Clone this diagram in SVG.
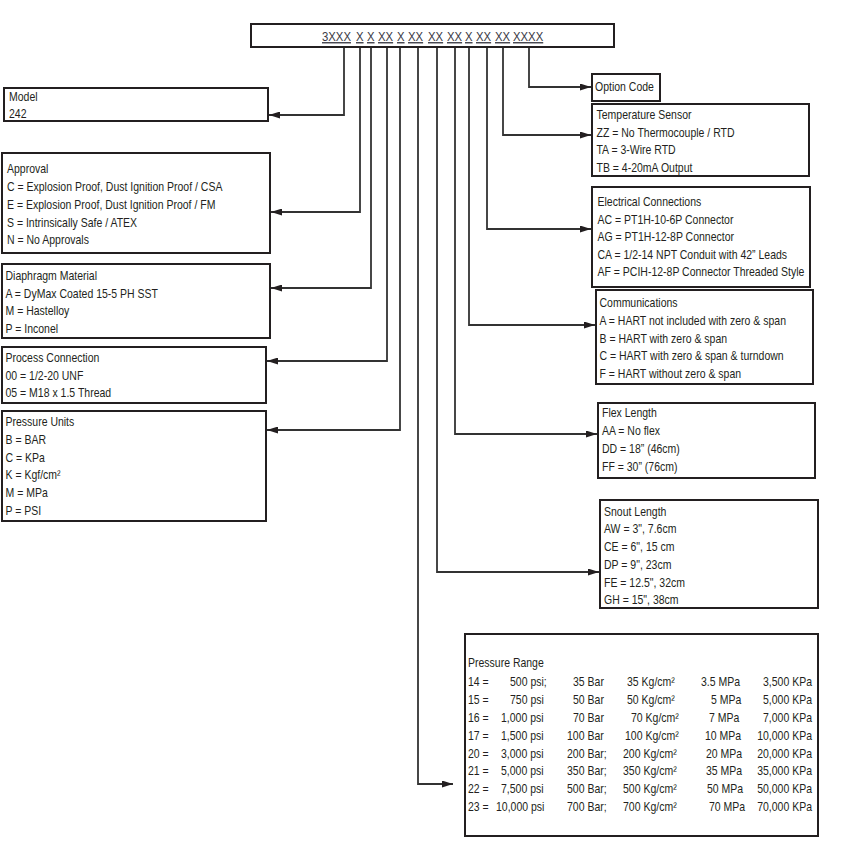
<svg xmlns="http://www.w3.org/2000/svg" width="846" height="854" viewBox="0 0 846 854">
<style>
.t{font-family:"Liberation Sans",Arial,sans-serif;font-size:12.5px;fill:#231f20}
.code{font-family:"Liberation Sans",Arial,sans-serif;font-size:13.5px;fill:#3a3a44;text-decoration:underline}
.box{fill:#fff;stroke:#231f20;stroke-width:2}
.ln{fill:none;stroke:#333;stroke-width:1.8}
</style>
<defs>
<marker id="ah" markerUnits="userSpaceOnUse" markerWidth="11" markerHeight="7" refX="11" refY="3.5" orient="auto">
<path d="M0,0 L11,3.5 L0,7 z" fill="#231f20"/>
</marker>
</defs>
<rect width="846" height="854" fill="#fff"/>

<g id="connectors">
<path class="ln" marker-end="url(#ah)" d="M344,47 V115 H269"/>
<path class="ln" marker-end="url(#ah)" d="M360,47 V212 H271"/>
<path class="ln" marker-end="url(#ah)" d="M371,47 V288 H271"/>
<path class="ln" marker-end="url(#ah)" d="M387,47 V361 H267"/>
<path class="ln" marker-end="url(#ah)" d="M400,47 V430 H267"/>
<path class="ln" marker-end="url(#ah)" d="M418,47 V784 H453"/>
<path class="ln" marker-end="url(#ah)" d="M437,47 V572 H599"/>
<path class="ln" marker-end="url(#ah)" d="M455,47 V434 H597"/>
<path class="ln" marker-end="url(#ah)" d="M469,47 V325 H595"/>
<path class="ln" marker-end="url(#ah)" d="M487,47 V229 H591"/>
<path class="ln" marker-end="url(#ah)" d="M503,47 V135 H591"/>
<path class="ln" marker-end="url(#ah)" d="M529,47 V87 H591"/>
</g>

<g id="code">
<rect class="box" x="251" y="24" width="363" height="23"/>
<g transform="scale(0.84 1)">
<text class="code" x="383.33" y="41">3XXX</text>
<text class="code" x="423.81" y="41">X</text>
<text class="code" x="436.9" y="41">X</text>
<text class="code" x="450" y="41">XX</text>
<text class="code" x="472.62" y="41">X</text>
<text class="code" x="485.71" y="41">XX</text>
<text class="code" x="509.52" y="41">XX</text>
<text class="code" x="532.14" y="41">XX</text>
<text class="code" x="553.57" y="41">X</text>
<text class="code" x="566.67" y="41">XX</text>
<text class="code" x="589.29" y="41">XX</text>
<text class="code" x="610.71" y="41">XXXX</text>
</g>
</g>

<g id="model">
<rect class="box" x="4" y="88" width="264" height="33"/>
<g transform="scale(0.84 1)">
<text class="t" x="10.71" y="101">Model</text>
<text class="t" x="10.71" y="118.5">242</text>
</g>
</g>

<g id="approval">
<rect class="box" x="2" y="153" width="268" height="100"/>
<g transform="scale(0.84 1)">
<text class="t" x="8.33" y="173.5">Approval</text>
<text class="t" x="8.33" y="191.2">C = Explosion Proof, Dust Ignition Proof / CSA</text>
<text class="t" x="8.33" y="208.9">E = Explosion Proof, Dust Ignition Proof / FM</text>
<text class="t" x="8.33" y="226.6">S = Intrinsically Safe / ATEX</text>
<text class="t" x="8.33" y="244.3">N = No Approvals</text>
</g>
</g>

<g id="diaphragm">
<rect class="box" x="2" y="264" width="268" height="74"/>
<g transform="scale(0.84 1)">
<text class="t" x="6.55" y="280.5">Diaphragm Material</text>
<text class="t" x="6.55" y="298">A =  DyMax Coated 15-5 PH SST</text>
<text class="t" x="6.55" y="315.5">M = Hastelloy</text>
<text class="t" x="6.55" y="333">P = Inconel</text>
</g>
</g>

<g id="process">
<rect class="box" x="2" y="347" width="264" height="56"/>
<g transform="scale(0.84 1)">
<text class="t" x="6.55" y="362.5">Process Connection</text>
<text class="t" x="6.55" y="380">00 = 1/2-20 UNF</text>
<text class="t" x="6.55" y="397.5">05 = M18 x 1.5 Thread</text>
</g>
</g>

<g id="units">
<rect class="box" x="2" y="411" width="264" height="110"/>
<g transform="scale(0.84 1)">
<text class="t" x="6.55" y="426.5">Pressure Units</text>
<text class="t" x="6.55" y="444.5">B =  BAR</text>
<text class="t" x="6.55" y="462">C = KPa</text>
<text class="t" x="6.55" y="479.5">K = Kgf/cm²</text>
<text class="t" x="6.55" y="497.5">M = MPa</text>
<text class="t" x="6.55" y="515">P = PSI</text>
</g>
</g>

<g id="option">
<rect class="box" x="592" y="74" width="68" height="27"/>
<g transform="scale(0.84 1)">
<text class="t" x="708.33" y="91.5">Option Code</text>
</g>
</g>

<g id="temperature">
<rect class="box" x="592" y="104" width="217" height="72"/>
<g transform="scale(0.84 1)">
<text class="t" x="710.12" y="119.5">Temperature Sensor</text>
<text class="t" x="710.12" y="137">ZZ = No Thermocouple / RTD</text>
<text class="t" x="710.12" y="154.5">TA = 3-Wire RTD</text>
<text class="t" x="710.12" y="172">TB = 4-20mA Output</text>
</g>
</g>

<g id="electrical">
<rect class="box" x="592" y="187" width="218" height="100"/>
<g transform="scale(0.84 1)">
<text class="t" x="711.31" y="206.5">Electrical Connections</text>
<text class="t" x="711.31" y="224">AC = PT1H-10-6P Connector</text>
<text class="t" x="711.31" y="241.5">AG = PT1H-12-8P Connector</text>
<text class="t" x="711.31" y="259">CA = 1/2-14 NPT Conduit with 42” Leads</text>
<text class="t" x="711.31" y="276.5">AF = PCIH-12-8P Connector Threaded Style</text>
</g>
</g>

<g id="communications">
<rect class="box" x="596" y="290" width="217" height="94"/>
<g transform="scale(0.84 1)">
<text class="t" x="713.69" y="307.5">Communications</text>
<text class="t" x="713.69" y="325.5">A = HART not included with zero &amp; span</text>
<text class="t" x="713.69" y="343">B = HART with zero &amp; span</text>
<text class="t" x="713.69" y="360.5">C = HART with zero &amp; span &amp; turndown</text>
<text class="t" x="713.69" y="378.5">F = HART without zero &amp; span</text>
</g>
</g>

<g id="flex">
<rect class="box" x="598" y="403" width="217" height="75"/>
<g transform="scale(0.84 1)">
<text class="t" x="716.67" y="417">Flex Length</text>
<text class="t" x="716.67" y="435.5">AA = No flex</text>
<text class="t" x="716.67" y="453.5">DD = 18” (46cm)</text>
<text class="t" x="716.67" y="471.5">FF = 30” (76cm)</text>
</g>
</g>

<g id="snout">
<rect class="box" x="600" y="500" width="218" height="108"/>
<g transform="scale(0.84 1)">
<text class="t" x="719.05" y="516.5">Snout Length</text>
<text class="t" x="719.05" y="533.5">AW = 3", 7.6cm</text>
<text class="t" x="719.05" y="551.5">CE = 6", 15 cm</text>
<text class="t" x="719.05" y="569.5">DP = 9", 23cm</text>
<text class="t" x="719.05" y="587">FE = 12.5", 32cm</text>
<text class="t" x="719.05" y="604.5">GH = 15", 38cm</text>
</g>
</g>

<g id="range">
<rect class="box" x="465" y="634" width="353" height="202"/>
<g class="t" transform="scale(0.84 1)">
<text x="557.14" y="667.5">Pressure Range</text>
<text x="557.14" y="686.5">14 =</text><text x="607.14" y="686.5">500 psi;</text><text x="682.14" y="686.5">35 Bar</text><text x="746.43" y="686.5">35 Kg/cm²</text><text x="834.52" y="686.5">3.5 MPa</text><text x="966.67" y="686.5" text-anchor="end">3,500 KPa</text>
<text x="557.14" y="704.5">15 =</text><text x="607.14" y="704.5">750 psi</text><text x="682.14" y="704.5">50 Bar</text><text x="746.43" y="704.5">50 Kg/cm²</text><text x="846.43" y="704.5">5 MPa</text><text x="966.67" y="704.5" text-anchor="end">5,000 KPa</text>
<text x="557.14" y="722">16 =</text><text x="596.43" y="722">1,000 psi</text><text x="682.14" y="722">70 Bar</text><text x="751.19" y="722">70 Kg/cm²</text><text x="844.05" y="722">7 MPa</text><text x="966.67" y="722" text-anchor="end">7,000 KPa</text>
<text x="557.14" y="740">17 =</text><text x="596.43" y="740">1,500 psi</text><text x="675" y="740">100 Bar</text><text x="744.05" y="740">100 Kg/cm²</text><text x="839.29" y="740">10 MPa</text><text x="966.67" y="740" text-anchor="end">10,000 KPa</text>
<text x="557.14" y="758">20 =</text><text x="596.43" y="758">3,000 psi</text><text x="675" y="758">200 Bar;</text><text x="741.67" y="758">200 Kg/cm²</text><text x="840.48" y="758">20 MPa</text><text x="966.67" y="758" text-anchor="end">20,000 KPa</text>
<text x="557.14" y="775.5">21 =</text><text x="596.43" y="775.5">5,000 psi</text><text x="675" y="775.5">350 Bar;</text><text x="741.67" y="775.5">350 Kg/cm²</text><text x="840.48" y="775.5">35 MPa</text><text x="966.67" y="775.5" text-anchor="end">35,000 KPa</text>
<text x="557.14" y="793.5">22 =</text><text x="596.43" y="793.5">7,500 psi</text><text x="675" y="793.5">500 Bar;</text><text x="741.67" y="793.5">500 Kg/cm²</text><text x="841.67" y="793.5">50 MPa</text><text x="966.67" y="793.5" text-anchor="end">50,000 KPa</text>
<text x="557.14" y="811">23 =</text><text x="590.48" y="811">10,000 psi</text><text x="675" y="811">700 Bar;</text><text x="741.67" y="811">700 Kg/cm²</text><text x="844.05" y="811">70 MPa</text><text x="966.67" y="811" text-anchor="end">70,000 KPa</text>
</g>
</g>
</svg>
